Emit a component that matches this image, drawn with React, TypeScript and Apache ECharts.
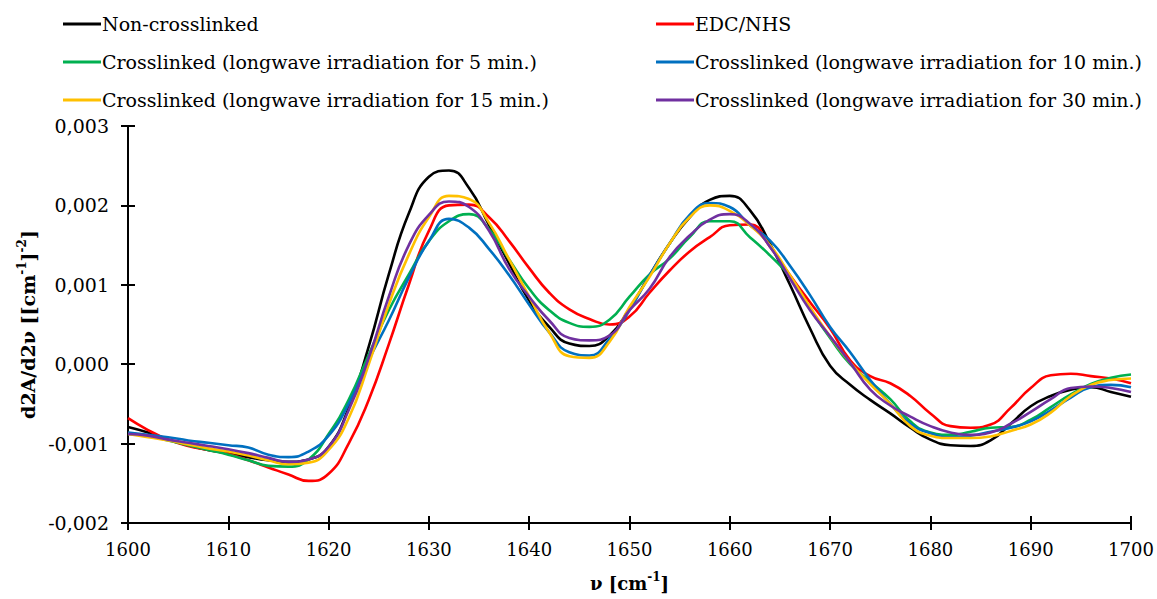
import React, { useEffect, useRef } from "react";
import * as echarts from "echarts";

// wavenumber (cm^-1)
const wavenumbers = [
  1600, 1602, 1604, 1606, 1608, 1610, 1612, 1614, 1616, 1618,
  1620, 1622, 1624, 1626, 1628, 1630, 1632, 1634, 1636, 1638,
  1640, 1642, 1644, 1646, 1648, 1650, 1652, 1654, 1656, 1658,
  1660, 1662, 1664, 1666, 1668, 1670, 1672, 1674, 1676, 1678,
  1680, 1682, 1684, 1686, 1688, 1690, 1692, 1694, 1696, 1698, 1700,
];

// values in units of 0.001 [cm^-1]^-2
const nonCrosslinked = [
  -0.79, -0.86, -0.95, -1.02, -1.08, -1.12, -1.17, -1.21, -1.23, -1.2,
  -1.04, -0.55, 0.22, 1.13, 1.9, 2.36, 2.44, 2.22, 1.75, 1.27,
  0.8, 0.47, 0.26, 0.23, 0.36, 0.7, 1.12, 1.52, 1.85, 2.07,
  2.12, 1.94, 1.52, 1.0, 0.45, -0.02, -0.26, -0.45, -0.62, -0.8,
  -0.95, -1.02, -1.03, -0.96, -0.75, -0.53, -0.4, -0.32, -0.29, -0.35, -0.41,
];
const edcNhs = [
  -0.68, -0.83, -0.95, -1.03, -1.08, -1.13, -1.21, -1.3, -1.39, -1.47,
  -1.38, -1.0, -0.45, 0.25, 1.0, 1.68, 2.0, 2.01, 1.85, 1.55,
  1.21, 0.9, 0.69, 0.57, 0.5, 0.6, 0.9, 1.18, 1.42, 1.6,
  1.75, 1.76, 1.48, 1.12, 0.78, 0.45, 0.05, -0.15, -0.24, -0.4,
  -0.62, -0.78, -0.8, -0.76, -0.55, -0.3, -0.14, -0.12, -0.15, -0.18, -0.24,
];
const cl5 = [
  -0.88, -0.9, -0.96, -1.02, -1.08, -1.14, -1.21, -1.28, -1.29, -1.2,
  -0.88, -0.45, 0.12, 0.68, 1.13, 1.55, 1.8, 1.89, 1.7, 1.32,
  0.95, 0.68, 0.52, 0.47, 0.56, 0.85, 1.13, 1.33, 1.6, 1.8,
  1.8, 1.6, 1.37, 1.1, 0.7, 0.33, 0.0, -0.22, -0.44, -0.72,
  -0.86, -0.89, -0.85, -0.8, -0.79, -0.7, -0.54, -0.38, -0.25, -0.17, -0.13,
];
const cl10 = [
  -0.86, -0.89, -0.92, -0.96, -0.99, -1.02, -1.05, -1.14, -1.17, -1.1,
  -0.9, -0.5, 0.05, 0.55, 1.09, 1.55, 1.83, 1.72, 1.45, 1.12,
  0.75, 0.4, 0.15, 0.11, 0.32, 0.68, 1.12, 1.52, 1.88, 2.03,
  1.98, 1.75, 1.56, 1.24, 0.87, 0.47, 0.15, -0.2, -0.5, -0.75,
  -0.87, -0.92, -0.9, -0.85, -0.8, -0.72, -0.58, -0.42, -0.29, -0.26, -0.29,
];
const cl15 = [
  -0.88, -0.92, -0.96, -1.01, -1.06, -1.1, -1.15, -1.21, -1.26, -1.24,
  -1.08, -0.68, 0.0, 0.75, 1.38, 1.85, 2.12, 2.08, 1.78, 1.32,
  0.85, 0.4, 0.1, 0.08, 0.28, 0.72, 1.1, 1.52, 1.85, 2.0,
  1.93, 1.75, 1.5, 1.12, 0.72, 0.35, 0.02, -0.25, -0.5, -0.78,
  -0.9, -0.93, -0.93, -0.91, -0.84, -0.76, -0.61, -0.4, -0.26, -0.2, -0.18,
];
const cl30 = [
  -0.88, -0.9, -0.95, -0.99, -1.03, -1.07, -1.12, -1.18, -1.23, -1.2,
  -1.04, -0.58, 0.08, 0.85, 1.5, 1.88, 2.05, 1.98, 1.68, 1.2,
  0.85, 0.55, 0.33, 0.3, 0.36, 0.68, 0.95, 1.35, 1.62, 1.82,
  1.89, 1.77, 1.48, 1.08, 0.68, 0.35, 0.02, -0.32, -0.52, -0.66,
  -0.78, -0.86, -0.89, -0.86, -0.75, -0.6, -0.44, -0.3, -0.28, -0.3, -0.35,
];

const seriesNames = [
  "Non-crosslinked",
  "EDC/NHS",
  "Crosslinked (longwave irradiation for 5 min.)",
  "Crosslinked (longwave irradiation for 10 min.)",
  "Crosslinked (longwave irradiation for 15 min.)",
  "Crosslinked (longwave irradiation for 30 min.)",
];
const seriesValues = [nonCrosslinked, edcNhs, cl5, cl10, cl15, cl30];
const seriesColors = ["#000000", "#FF0000", "#00B050", "#0070C0", "#FFC000", "#7030A0"];

const FONT = "DejaVu Serif";

export default function App() {
  const ref = useRef<HTMLDivElement>(null);
  useEffect(() => {
    if (!ref.current) return;
    const chart = echarts.init(ref.current, undefined, { renderer: "svg" });
    const yLabel = (v: number) => (v / 1000).toFixed(3).replace(".", ",");
    const baseX = {
      type: "value",
      min: 1600,
      max: 1700,
      interval: 10,
      position: "bottom",
      splitLine: { show: false },
      axisLine: { show: true, onZero: false, lineStyle: { color: "#000", width: 2 } },
    };
    const baseY = {
      type: "value",
      min: -2,
      max: 3,
      interval: 1,
      position: "left",
      splitLine: { show: false },
      axisLine: { show: true, onZero: false, lineStyle: { color: "#000", width: 2 } },
    };
    const legendCommon = {
      orient: "vertical",
      top: 8,
      icon: "rect",
      itemWidth: 38,
      itemHeight: 3,
      itemGap: 16,
      selectedMode: false,
      textStyle: { fontFamily: FONT, fontSize: 19, color: "#000", lineHeight: 22, padding: [0, 0, 0, -4] },
    };
    const titleRich = (size: number) => ({
      b: { fontFamily: FONT, fontSize: size, fontWeight: "bold", color: "#000", lineHeight: 24 },
      s: { fontFamily: FONT, fontSize: 12, fontWeight: "bold", color: "#000", verticalAlign: "top", lineHeight: 24 },
    });
    const option: any = {
      animation: false,
      backgroundColor: "#fff",
      textStyle: { fontFamily: FONT },
      grid: { left: 128, right: 26, top: 126, bottom: 76, containLabel: false },
      legend: [
        { ...legendCommon, data: [seriesNames[0], seriesNames[2], seriesNames[4]], left: 58 },
        { ...legendCommon, data: [seriesNames[1], seriesNames[3], seriesNames[5]], left: 651 },
      ],
      xAxis: [
        {
          ...baseX,
          axisTick: { show: true, inside: false, length: 7, lineStyle: { color: "#000", width: 2 } },
          axisLabel: { color: "#000", fontFamily: FONT, fontSize: 18, margin: 17, formatter: (v: number) => String(v) },
          name: "{b|ν [cm}{s|-1}{b|]}",
          nameLocation: "middle",
          nameGap: 48,
          nameTextStyle: { rich: titleRich(18) },
        },
        {
          ...baseX,
          axisTick: { show: true, inside: true, length: 7, lineStyle: { color: "#000", width: 2 } },
          axisLabel: { show: false },
        },
      ],
      yAxis: [
        {
          ...baseY,
          axisTick: { show: true, inside: false, length: 7, lineStyle: { color: "#000", width: 2 } },
          axisLabel: { color: "#000", fontFamily: FONT, fontSize: 19, margin: 19, formatter: yLabel },
          name: "{b|d2A/d2ν [[cm}{s|-1}{b|]}{s|-2}{b|]}",
          nameLocation: "middle",
          nameRotate: 90,
          nameGap: 88,
          nameTextStyle: { rich: titleRich(19) },
        },
        {
          ...baseY,
          axisTick: { show: true, inside: true, length: 7, lineStyle: { color: "#000", width: 2 } },
          axisLabel: { show: false },
        },
      ],
      series: seriesNames.map((name, i) => ({
        name,
        type: "line",
        xAxisIndex: 0,
        yAxisIndex: 0,
        smooth: 0.5,
        symbol: "none",
        showSymbol: false,
        lineStyle: { color: seriesColors[i], width: 2.6 },
        itemStyle: { color: seriesColors[i] },
        data: wavenumbers.map((x, j) => [x, seriesValues[i][j]]),
        z: 2 + i,
      })),
    };
    chart.setOption(option);
    return () => chart.dispose();
  }, []);
  return (
    <div
      ref={ref}
      style={{ position: "fixed", left: 0, top: 0, width: 1157, height: 599, background: "#fff" }}
    />
  );
}
